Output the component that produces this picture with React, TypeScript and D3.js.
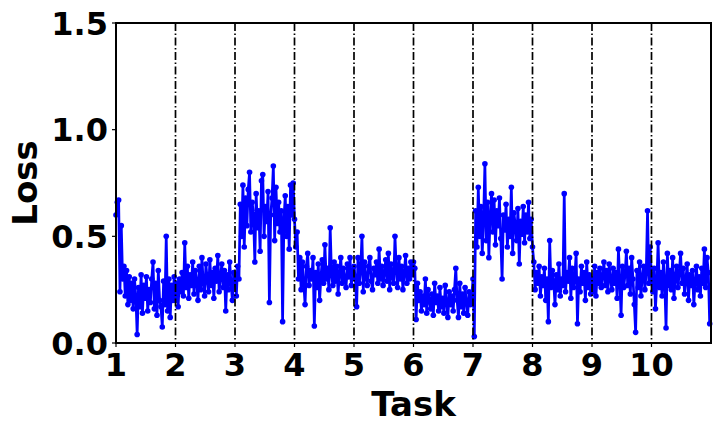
import * as React from "react";
import * as d3 from "d3";

// loss values per task
const t1 = [0.6, 0.66, 0.67, 0.24, 0.55, 0.3, 0.36, 0.22, 0.34, 0.18, 0.31, 0.2, 0.28, 0.16, 0.3, 0.22, 0.04, 0.26, 0.17, 0.32, 0.14, 0.27, 0.21, 0.31, 0.15, 0.25, 0.19, 0.3, 0.38, 0.16, 0.28, 0.13, 0.34, 0.2, 0.17, 0.075, 0.29, 0.18, 0.5, 0.15, 0.3, 0.12, 0.27, 0.2, 0.31];
const t2 = [0.2, 0.28, 0.17, 0.3, 0.24, 0.33, 0.22, 0.47, 0.26, 0.36, 0.21, 0.32, 0.27, 0.38, 0.23, 0.34, 0.29, 0.2, 0.36, 0.25, 0.4, 0.28, 0.22, 0.37, 0.3, 0.24, 0.39, 0.27, 0.33, 0.21, 0.35, 0.29, 0.41, 0.24, 0.31, 0.37, 0.26, 0.34, 0.15, 0.32, 0.25, 0.38, 0.28, 0.2, 0.33];
const t3 = [0.32, 0.22, 0.36, 0.3, 0.65, 0.5, 0.74, 0.45, 0.68, 0.55, 0.72, 0.8, 0.52, 0.66, 0.6, 0.38, 0.7, 0.54, 0.62, 0.43, 0.76, 0.79, 0.5, 0.64, 0.57, 0.71, 0.19, 0.6, 0.68, 0.83, 0.48, 0.73, 0.56, 0.66, 0.52, 0.62, 0.1, 0.58, 0.69, 0.5, 0.64, 0.44, 0.74, 0.6, 0.75];
const t4 = [0.58, 0.45, 0.52, 0.3, 0.4, 0.25, 0.38, 0.28, 0.18, 0.36, 0.42, 0.27, 0.34, 0.3, 0.4, 0.08, 0.33, 0.26, 0.37, 0.2, 0.31, 0.39, 0.28, 0.46, 0.3, 0.35, 0.25, 0.54, 0.32, 0.27, 0.38, 0.29, 0.36, 0.23, 0.33, 0.4, 0.28, 0.35, 0.3, 0.26, 0.37, 0.31, 0.4, 0.27, 0.34];
const t5 = [0.36, 0.3, 0.17, 0.4, 0.28, 0.34, 0.5, 0.24, 0.38, 0.31, 0.27, 0.36, 0.4, 0.29, 0.25, 0.35, 0.32, 0.38, 0.28, 0.44, 0.3, 0.36, 0.27, 0.33, 0.39, 0.29, 0.42, 0.25, 0.37, 0.31, 0.28, 0.5, 0.34, 0.26, 0.4, 0.3, 0.36, 0.25, 0.33, 0.41, 0.28, 0.35, 0.3, 0.38, 0.32];
const t6 = [0.38, 0.35, 0.11, 0.28, 0.2, 0.24, 0.15, 0.22, 0.18, 0.3, 0.14, 0.25, 0.2, 0.16, 0.23, 0.13, 0.28, 0.19, 0.22, 0.15, 0.26, 0.17, 0.21, 0.14, 0.27, 0.19, 0.12, 0.24, 0.18, 0.22, 0.15, 0.25, 0.35, 0.2, 0.12, 0.28, 0.17, 0.23, 0.14, 0.26, 0.19, 0.13, 0.24, 0.18, 0.22];
const t7 = [0.3, 0.03, 0.62, 0.45, 0.73, 0.5, 0.64, 0.42, 0.58, 0.84, 0.48, 0.66, 0.4, 0.6, 0.7, 0.52, 0.67, 0.46, 0.62, 0.55, 0.68, 0.49, 0.3, 0.6, 0.53, 0.65, 0.45, 0.58, 0.5, 0.73, 0.42, 0.61, 0.55, 0.48, 0.63, 0.37, 0.57, 0.51, 0.64, 0.47, 0.6, 0.52, 0.66, 0.49, 0.58];
const t8 = [0.45, 0.38, 0.25, 0.33, 0.28, 0.36, 0.22, 0.31, 0.27, 0.35, 0.2, 0.3, 0.1, 0.48, 0.26, 0.34, 0.29, 0.18, 0.32, 0.25, 0.37, 0.22, 0.3, 0.27, 0.7, 0.24, 0.33, 0.29, 0.4, 0.21, 0.35, 0.26, 0.31, 0.42, 0.09, 0.3, 0.24, 0.36, 0.28, 0.33, 0.2, 0.38, 0.26, 0.32, 0.23];
const t9 = [0.3, 0.24, 0.36, 0.22, 0.33, 0.28, 0.35, 0.26, 0.31, 0.38, 0.27, 0.34, 0.24, 0.37, 0.3, 0.25, 0.35, 0.28, 0.33, 0.21, 0.44, 0.29, 0.13, 0.36, 0.26, 0.32, 0.43, 0.27, 0.35, 0.23, 0.4, 0.3, 0.18, 0.05, 0.34, 0.26, 0.38, 0.22, 0.31, 0.36, 0.25, 0.33, 0.62, 0.28, 0.45];
const t10 = [0.3, 0.24, 0.35, 0.16, 0.28, 0.47, 0.26, 0.33, 0.22, 0.38, 0.29, 0.07, 0.42, 0.27, 0.34, 0.25, 0.4, 0.21, 0.31, 0.36, 0.26, 0.33, 0.42, 0.28, 0.35, 0.23, 0.3, 0.37, 0.2, 0.32, 0.27, 0.34, 0.18, 0.29, 0.36, 0.25, 0.31, 0.22, 0.35, 0.28, 0.44, 0.26, 0.4, 0.33, 0.09];

const tasks = [t1, t2, t3, t4, t5, t6, t7, t8, t9, t10];
const xTicks = [1, 2, 3, 4, 5, 6, 7, 8, 9, 10];
const yTicks = [0, 0.5, 1.0, 1.5];
const boundaries = [2, 3, 4, 5, 6, 7, 8, 9, 10];

const width = 720;
const height = 432;
const margin = { left: 116, right: 9, top: 23, bottom: 89 };
const font = "'DejaVu Sans', sans-serif";

export default function App() {
  const x = d3.scaleLinear().domain([1, 11]).range([margin.left, width - margin.right]);
  const y = d3.scaleLinear().domain([0, 1.5]).range([height - margin.bottom, margin.top]);

  // each task's points spread evenly across its unit interval
  const points: [number, number][] = [];
  tasks.forEach((vals, ti) => {
    vals.forEach((v, i) => points.push([ti + 1 + i / vals.length, v]));
  });

  const line = d3
    .line<[number, number]>()
    .x(d => x(d[0]))
    .y(d => y(d[1]));

  const x0 = margin.left;
  const x1 = width - margin.right;
  const y0 = height - margin.bottom;
  const y1 = margin.top;

  return (
    <svg width={width} height={height} style={{ position: "absolute", left: 0, top: 0, background: "#fff" }}>
      <path d={line(points) || ""} fill="none" stroke="#0000ff" strokeWidth={2.7} strokeLinejoin="round" />
      {points.map((p, i) => (
        <circle key={i} cx={x(p[0])} cy={y(p[1])} r={2.8} fill="#0000ff" />
      ))}
      {boundaries.map(b => (
        <line key={b} x1={x(b)} x2={x(b)} y1={y1} y2={y0} stroke="#000" strokeWidth={1.7} strokeDasharray="8,2.5,1.5,2.5" />
      ))}
      <rect x={x0} y={y1} width={x1 - x0} height={y0 - y1} fill="none" stroke="#000" strokeWidth={2} />
      {xTicks.map(t => (
        <g key={t}>
          <line x1={x(t)} x2={x(t)} y1={y0} y2={y0 + 4} stroke="#000" strokeWidth={1.2} />
          <text x={x(t)} y={y0 + 33} textAnchor="middle" fontFamily={font} fontWeight="bold" fontSize={32}>
            {t}
          </text>
        </g>
      ))}
      {yTicks.map(t => (
        <g key={t}>
          <line x1={x0 - 4} x2={x0} y1={y(t)} y2={y(t)} stroke="#000" strokeWidth={1.2} />
          <text x={x0 - 8} y={y(t) + 11.5} textAnchor="end" fontFamily={font} fontWeight="bold" fontSize={32}>
            {t.toFixed(1)}
          </text>
        </g>
      ))}
      <text x={(x0 + x1) / 2} y={416} textAnchor="middle" fontFamily={font} fontWeight="bold" fontSize={34}>
        Task
      </text>
      <text transform={`translate(37,${(y0 + y1) / 2}) rotate(-90)`} textAnchor="middle" fontFamily={font} fontWeight="bold" fontSize={34}>
        Loss
      </text>
    </svg>
  );
}
